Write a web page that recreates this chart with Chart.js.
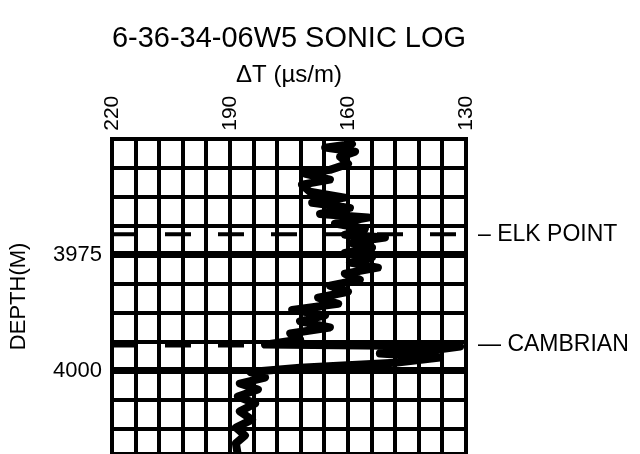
<!DOCTYPE html>
<html lang="en">
<head>
<meta charset="UTF-8">
<title>6-36-34-06W5 Sonic Log</title>
<script src="https://cdn.jsdelivr.net/npm/chart.js"></script>
<style>
  html, body { margin: 0; padding: 0; background: #fff; }
</style>
</head>
<body>
<canvas id="sonicChart" width="640" height="454"></canvas>
<script>
// sonic trace: depth (m) and transit time (µs/m)
const depth = [3950, 3951.1, 3951.9, 3952.8, 3953.9, 3955.4, 3956.7, 3957.5, 3958.8, 3959.9,
  3961.4, 3962.7, 3963.8, 3964.9, 3966.2, 3967.0, 3968.3, 3969.4, 3970.7, 3971.3,
  3972.4, 3973.5, 3974.6, 3975.6, 3976.7, 3977.8, 3979.1, 3980.4, 3981.7, 3983.0,
  3984.3, 3985.6, 3986.9, 3988.1, 3989.4, 3990.7, 3992.0, 3993.3, 3994.4, 3994.8,
  3995.7, 3996.3, 3997.2, 3998.3, 3999.4, 4000.3, 4001.5, 4002.8, 4004.1, 4005.6,
  4007.1, 4008.8, 4010.6, 4012.3, 4014.0, 4015.7, 4018.3];
const deltaT = [160.2, 159, 165.8, 158.2, 162, 160, 164.6, 171, 164.6, 171.7,
  169.7, 160.8, 169.1, 159.5, 167.1, 154.9, 163.3, 155.7, 160.8, 150.6,
  159.5, 153.9, 160.8, 153.9, 159.5, 152.4, 160.8, 157, 164.6, 160,
  167.6, 162.5, 174.2, 165.8, 172.2, 164.6, 174.7, 172.2, 181.1, 131.5,
  139.1, 151.9, 136.6, 148, 172.2, 184.9, 181.1, 187.5, 182.9, 188,
  183.6, 187.5, 184.4, 188.5, 186.2, 188.5, 188];

// formation tops
const topNames = ['– ELK POINT', '— CAMBRIAN'];
const topDepths = [3970.6, 3994.4];

// labelled ticks
const depthLabels = [3975, 4000];
const dtLabels = [220, 190, 160, 130];

Chart.defaults.font.family = '"Liberation Sans", Arial, Helvetica, sans-serif';
Chart.defaults.color = '#000';

const trace = depth.map((d, i) => ({ x: deltaT[i], y: d }));
const topLine = d => [{ x: 220, y: d }, { x: 130, y: d }];

// keep the plot running to the bottom edge like the scanned log
const noEdgePadding = s => {
  s.paddingTop = 0; s.paddingBottom = 0;
  s.paddingLeft = 0; s.paddingRight = 0;
};

const ctx = document.getElementById('sonicChart').getContext('2d');
new Chart(ctx, {
  type: 'scatter',
  data: {
    datasets: [
      {
        data: trace,
        showLine: true,
        borderColor: '#000',
        borderWidth: 8,
        borderJoinStyle: 'round',
        borderCapStyle: 'round',
        pointRadius: 0,
        tension: 0
      },
      {
        data: topLine(topDepths[0]),
        showLine: true,
        borderColor: '#000',
        borderWidth: 4,
        borderDash: [26, 27],
        pointRadius: 0
      },
      {
        data: topLine(topDepths[1]),
        showLine: true,
        borderColor: '#000',
        borderWidth: 6,
        borderDash: [26, 27],
        pointRadius: 0
      }
    ]
  },
  options: {
    responsive: false,
    animation: false,
    layout: { padding: 0 },
    plugins: {
      legend: { display: false },
      tooltip: { enabled: false },
      title: {
        display: true,
        text: '6-36-34-06W5 SONIC LOG',
        fullSize: false,
        color: '#000',
        font: { size: 29, weight: 'normal' },
        padding: { top: 22, bottom: 2 }
      }
    },
    scales: {
      x: {
        type: 'linear',
        position: 'top',
        min: 130,
        max: 220,
        reverse: true,
        afterFit: s => { s.height = 80; noEdgePadding(s); },
        title: {
          display: true,
          text: 'ΔT (µs/m)',
          font: { size: 24 },
          padding: { top: 2, bottom: 0 }
        },
        ticks: {
          stepSize: 6,
          autoSkip: false,
          minRotation: 90,
          maxRotation: 90,
          padding: 8,
          labelOffset: 25,
          font: { size: 21 },
          callback: v => dtLabels.includes(v) ? String(v) : ''
        },
        grid: { color: '#000', lineWidth: 4, drawTicks: false },
        border: { color: '#000', width: 4 }
      },
      y: {
        type: 'linear',
        position: 'left',
        min: 3950,
        max: 4018,
        reverse: true,
        afterFit: s => { s.width = 112; noEdgePadding(s); },
        title: {
          display: true,
          text: 'DEPTH(M)',
          font: { size: 22 },
          padding: { top: 6, bottom: 0 }
        },
        ticks: {
          stepSize: 6.25,
          autoSkip: false,
          padding: 10,
          font: { size: 22 },
          callback: v => depthLabels.includes(v) ? String(v) : ''
        },
        grid: {
          color: '#000',
          lineWidth: c => (c.tick && depthLabels.includes(c.tick.value)) ? 7 : 4,
          drawTicks: false
        },
        border: { color: '#000', width: 4 }
      },
      y2: {
        type: 'linear',
        position: 'right',
        min: 3950,
        max: 4018,
        reverse: true,
        afterFit: s => { s.width = 174; noEdgePadding(s); },
        afterBuildTicks: s => { s.ticks = topDepths.map(v => ({ value: v })); },
        ticks: {
          autoSkip: false,
          padding: 12,
          font: { size: 23 },
          callback: (v, i) => topNames[i]
        },
        grid: { display: false, drawTicks: false },
        border: { display: false }
      }
    }
  }
});
</script>
</body>
</html>
